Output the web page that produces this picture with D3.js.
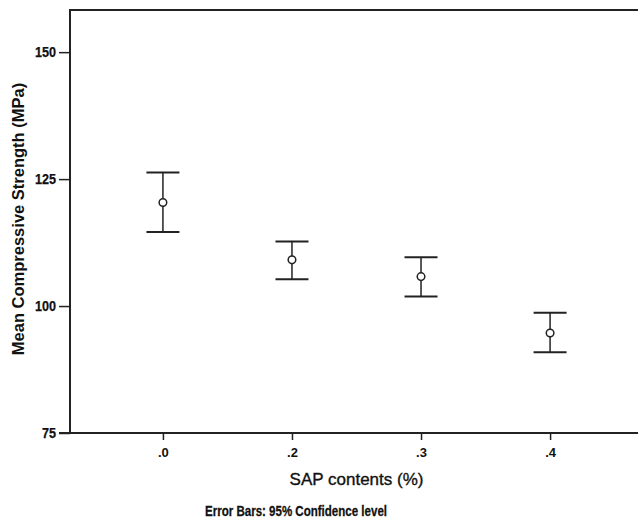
<!DOCTYPE html>
<html>
<head>
<meta charset="utf-8">
<script src="https://cdn.jsdelivr.net/npm/d3@7"></script>
<style>
  html, body { margin: 0; padding: 0; background: #fff; }
  svg { display: block; }
  .tick text { font-family: "Liberation Sans", Arial, sans-serif; font-weight: bold; fill: #111; }
</style>
</head>
<body>
<svg id="chart" width="638" height="521"></svg>
<script>
// SAP content groups and compressive strength summary (mean with 95% CI)
const categories = [".0", ".2", ".3", ".4"];
const means = [120.4, 109.1, 105.8, 94.7];
const upper = [126.3, 112.7, 109.6, 98.7];
const lower = [114.6, 105.3, 101.9, 90.9];
const yTicks = [75, 100, 125, 150];

const svg = d3.select("#chart");
const plotLeft = 70, plotRight = 643, plotTop = 10, plotBottom = 433;
const ink = "#222";

const x = d3.scalePoint().domain(categories).range([plotLeft, plotRight]).padding(0.72);
const y = d3.scaleLinear().domain([75, 158.3]).range([plotBottom, plotTop]);

// frame: top border
svg.append("line")
  .attr("x1", plotLeft).attr("x2", plotRight).attr("y1", plotTop).attr("y2", plotTop)
  .attr("stroke", ink).attr("stroke-width", 2);

// y axis
const yAxis = svg.append("g")
  .attr("transform", `translate(${plotLeft},0)`)
  .call(d3.axisLeft(y).tickValues(yTicks).tickSize(11).tickPadding(3).tickSizeOuter(0));
yAxis.select(".domain").attr("stroke", ink).attr("stroke-width", 2)
  .attr("d", `M0,${plotBottom + 1}V${plotTop - 1}`);
yAxis.selectAll(".tick line").attr("stroke", ink).attr("stroke-width", 1.5);
yAxis.selectAll(".tick text")
  .attr("font-size", 14)
  .attr("stroke", "#111").attr("stroke-width", 0.25)
  .attr("textLength", d => String(d).length * 7)
  .attr("lengthAdjust", "spacingAndGlyphs");

// x axis
const xAxis = svg.append("g")
  .attr("transform", `translate(0,${plotBottom})`)
  .call(d3.axisBottom(x).tickSize(7).tickPadding(8).tickSizeOuter(0));
xAxis.select(".domain").attr("stroke", ink).attr("stroke-width", 2)
  .attr("d", `M${plotLeft - 11},0H${plotRight}`);
xAxis.selectAll(".tick line").attr("stroke", ink).attr("stroke-width", 1.5);
xAxis.selectAll(".tick text").attr("font-size", 13);

// error bars
const rows = categories.map((c, i) => ({ c, m: means[i], hi: upper[i], lo: lower[i] }));
const capHalf = 16.5;
const g = svg.append("g");
rows.forEach(d => {
  const cx = x(d.c);
  g.append("line").attr("x1", cx).attr("x2", cx).attr("y1", y(d.hi)).attr("y2", y(d.lo))
    .attr("stroke", ink).attr("stroke-width", 1.5);
  [d.hi, d.lo].forEach(v => {
    g.append("line").attr("x1", cx - capHalf).attr("x2", cx + capHalf).attr("y1", y(v)).attr("y2", y(v))
      .attr("stroke", ink).attr("stroke-width", 2);
  });
  g.append("circle").attr("cx", cx).attr("cy", y(d.m)).attr("r", 3.8)
    .attr("fill", "#fff").attr("stroke", ink).attr("stroke-width", 1.5);
});

// axis titles and footnote
svg.append("text")
  .attr("x", (plotLeft + plotRight) / 2).attr("y", 485).attr("text-anchor", "middle")
  .attr("font-family", "Liberation Sans, Arial, sans-serif")
  .attr("font-size", 17).attr("fill", "#111")
  .attr("stroke", "#111").attr("stroke-width", 0.35)
  .text("SAP contents (%)");

svg.append("text")
  .attr("transform", "translate(24,219) rotate(-90)").attr("text-anchor", "middle")
  .attr("font-family", "Liberation Sans, Arial, sans-serif")
  .attr("font-weight", "bold").attr("font-size", 16.5).attr("fill", "#111")
  .text("Mean Compressive Strength (MPa)");

svg.append("text")
  .attr("x", 205).attr("y", 516)
  .attr("font-family", "Liberation Sans, Arial, sans-serif")
  .attr("font-weight", "bold").attr("font-size", 15).attr("fill", "#111")
  .attr("stroke", "#111").attr("stroke-width", 0.3)
  .attr("textLength", 182).attr("lengthAdjust", "spacingAndGlyphs")
  .text("Error Bars: 95% Confidence level");
</script>
</body>
</html>
